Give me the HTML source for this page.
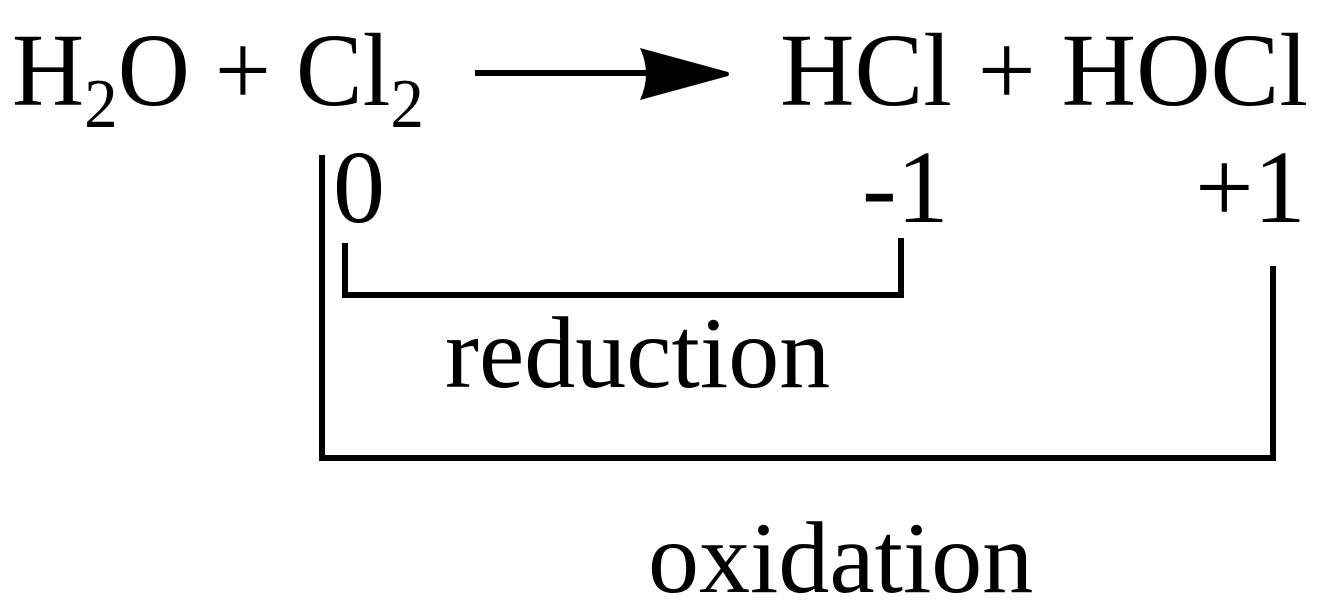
<!DOCTYPE html>
<html><head><style>html,body{margin:0;padding:0;background:#fff;}svg{display:block}</style></head>
<body>
<svg width="1326" height="613" xmlns="http://www.w3.org/2000/svg" font-family="'Liberation Serif', serif" fill="#000">
<text x="12" y="105" font-size="104" textLength="412" lengthAdjust="spacingAndGlyphs">H<tspan font-size="70" dy="22">2</tspan><tspan dy="-22">O + Cl</tspan><tspan font-size="70" dy="22">2</tspan></text>
<line x1="475" y1="73" x2="680" y2="73" stroke="#000" stroke-width="6"/>
<path d="M640 48 L728 72 Q730 74 728 76 L640 100 Q652 74 640 48 Z"/>
<text x="780" y="105" font-size="104" textLength="528" lengthAdjust="spacingAndGlyphs">HCl + HOCl</text>
<text x="333" y="222" font-size="104">0</text>
<text x="862" y="222" font-size="104">-1</text>
<text x="1195" y="222" font-size="104">+1</text>
<g stroke="#000" stroke-width="6" fill="none">
<polyline points="322,155 322,458 1273,458 1273,266"/>
<polyline points="345,243 345,295 901,295 901,238"/>
</g>
<text x="445" y="387" font-size="102">reduction</text>
<text x="648" y="592" font-size="102">oxidation</text>
</svg>
</body></html>
